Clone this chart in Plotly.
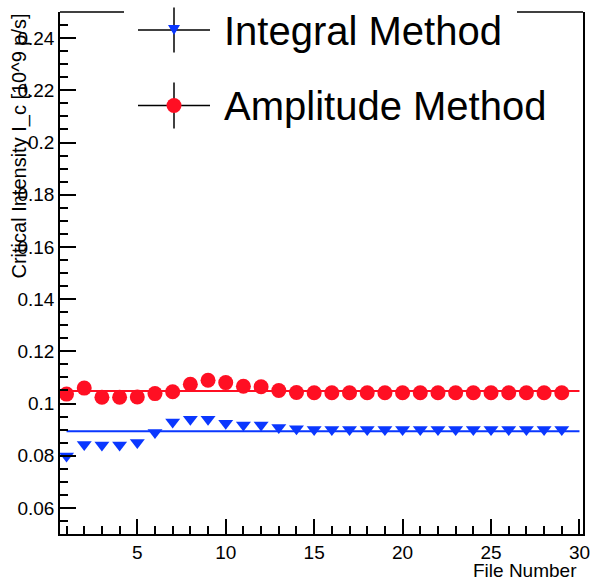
import plotly.graph_objects as go

# ---------------- data ----------------
file_number = [1, 2, 3, 4, 5, 6, 7, 8, 9, 10, 11, 12, 13, 14, 15,
               16, 17, 18, 19, 20, 21, 22, 23, 24, 25, 26, 27, 28, 29]
integral_ic = [0.0799, 0.0843, 0.0841, 0.0841, 0.0851, 0.0889, 0.0929, 0.0940,
               0.0940, 0.0924, 0.0918, 0.0918, 0.0908, 0.0903, 0.0900, 0.0900,
               0.0900, 0.0900, 0.0900, 0.0900, 0.0900, 0.0900, 0.0900, 0.0900,
               0.0900, 0.0900, 0.0900, 0.0900, 0.0900]
amplitude_ic = [0.1036, 0.1059, 0.1024, 0.1024, 0.1025, 0.1038, 0.1045, 0.1074,
                0.1089, 0.1080, 0.1066, 0.1064, 0.1050, 0.1042, 0.1041, 0.1041,
                0.1041, 0.1041, 0.1041, 0.1041, 0.1041, 0.1041, 0.1041, 0.1041,
                0.1041, 0.1041, 0.1041, 0.1041, 0.1041]
fit_x = [1, 30]
integral_fit = [0.0894, 0.0894]
amplitude_fit = [0.1048, 0.1048]

series_names = ["Integral Method", "Amplitude Method"]
x_title = "File Number"
y_title = "Critical Intensity I_c [10^9 p/s]"

x_tick_vals = [5, 10, 15, 20, 25, 30]
x_tick_text = ["5", "10", "15", "20", "25", "30"]
y_tick_vals = [0.06, 0.08, 0.10, 0.12, 0.14, 0.16, 0.18, 0.20, 0.22, 0.24]
y_tick_text = ["0.06", "0.08", "0.1", "0.12", "0.14", "0.16", "0.18", "0.2", "0.22", "0.24"]

# ---------------- layout geometry ----------------
W, H = 590, 580
ML, MR, MT, MB = 60, 7, 12, 46
PW, PH = W - ML - MR, H - MT - MB
FONT = "Liberation Sans, Arial, Helvetica, sans-serif"
BLUE = "#0a37ff"
RED = "#ff0f23"
LW = 1.5


def px(x):
    return (x - ML) / PW


def py(y):
    return (H - MB - y) / PH


fig = go.Figure()

# fit lines
fig.add_trace(go.Scatter(x=fit_x, y=integral_fit, mode="lines",
                         line=dict(color=BLUE, width=2), hoverinfo="skip"))
fig.add_trace(go.Scatter(x=fit_x, y=amplitude_fit, mode="lines",
                         line=dict(color=RED, width=2), hoverinfo="skip"))
# data points
fig.add_trace(go.Scatter(x=file_number, y=integral_ic, mode="markers", name=series_names[0],
                         marker=dict(symbol="triangle-down", size=13, color=BLUE,
                                     line=dict(width=0))))
fig.add_trace(go.Scatter(x=file_number, y=amplitude_ic, mode="markers", name=series_names[1],
                         marker=dict(symbol="circle", size=15, color=RED,
                                     line=dict(width=0))))

shapes = []
# top frame (partly hidden behind the legend box in the original)
shapes.append(dict(type="line", xref="paper", yref="paper", x0=0, x1=px(124), y0=1, y1=1,
                   line=dict(color="black", width=LW)))
shapes.append(dict(type="line", xref="paper", yref="paper", x0=px(517), x1=1, y0=1, y1=1,
                   line=dict(color="black", width=LW)))

# legend glyphs (error-bar crosses + markers)
for cy, half_v in [(30, 22.5), (105.5, 23)]:
    shapes.append(dict(type="line", xref="paper", yref="paper",
                       x0=px(138), x1=px(210), y0=py(cy), y1=py(cy),
                       line=dict(color="black", width=LW)))
    shapes.append(dict(type="line", xref="paper", yref="paper",
                       x0=px(174), x1=px(174), y0=py(cy - half_v), y1=py(cy + half_v),
                       line=dict(color="black", width=LW)))
tri = "M {:.5f},{:.5f} L {:.5f},{:.5f} L {:.5f},{:.5f} Z".format(
    px(168), py(25), px(180), py(25), px(174), py(35))
shapes.append(dict(type="path", xref="paper", yref="paper", path=tri,
                   fillcolor=BLUE, line=dict(width=0)))
shapes.append(dict(type="circle", xref="paper", yref="paper",
                   x0=px(166.5), x1=px(181.5), y0=py(98), y1=py(113),
                   fillcolor=RED, line=dict(width=0)))

annotations = [
    dict(text=series_names[0], xref="paper", yref="paper", x=px(222), y=py(31),
         xanchor="left", yanchor="middle", showarrow=False,
         font=dict(family=FONT, size=40, color="black")),
    dict(text=series_names[1], xref="paper", yref="paper", x=px(222), y=py(106),
         xanchor="left", yanchor="middle", showarrow=False,
         font=dict(family=FONT, size=40, color="black")),
    dict(text=x_title, xref="paper", yref="paper", x=px(579), y=py(570),
         xanchor="right", yanchor="middle", showarrow=False,
         font=dict(family=FONT, size=19, color="black")),
    dict(text=y_title, xref="paper", yref="paper", x=px(19), y=py(12),
         xanchor="center", yanchor="top", textangle=-90, showarrow=False,
         font=dict(family=FONT, size=20, color="black")),
]

fig.update_layout(
    width=W, height=H,
    margin=dict(l=ML, r=MR, t=MT, b=MB, pad=0),
    paper_bgcolor="white", plot_bgcolor="white",
    showlegend=False,
    font=dict(family=FONT, size=19, color="black"),
    shapes=shapes, annotations=annotations,
)
fig.update_xaxes(
    range=[0.63, 30.2], showgrid=False, zeroline=False,
    showline=True, linecolor="black", linewidth=LW, mirror=False,
    ticks="inside", ticklen=15, tickwidth=LW, tickcolor="black",
    tickvals=x_tick_vals, ticktext=x_tick_text, ticklabeloverflow="allow",
    tickfont=dict(family=FONT, size=19, color="black"),
    minor=dict(dtick=1, tick0=0, ticks="inside", ticklen=8, tickwidth=LW,
               tickcolor="black", showgrid=False),
    automargin=False,
)
fig.update_yaxes(
    range=[0.05, 0.25], showgrid=False, zeroline=False,
    showline=True, linecolor="black", linewidth=LW, mirror=True,
    ticks="inside", ticklen=16, tickwidth=LW, tickcolor="black",
    tickvals=y_tick_vals, ticktext=y_tick_text, ticklabeloverflow="allow",
    tickfont=dict(family=FONT, size=19, color="black"),
    minor=dict(dtick=0.005, tick0=0.05, ticks="inside", ticklen=8, tickwidth=LW,
               tickcolor="black", showgrid=False),
    automargin=False,
)

fig.write_html(
    "out.html",
    config={"displayModeBar": False},
    post_script="document.body.style.margin='0';document.body.style.padding='0';"
                "document.body.style.overflow='hidden';",
)
